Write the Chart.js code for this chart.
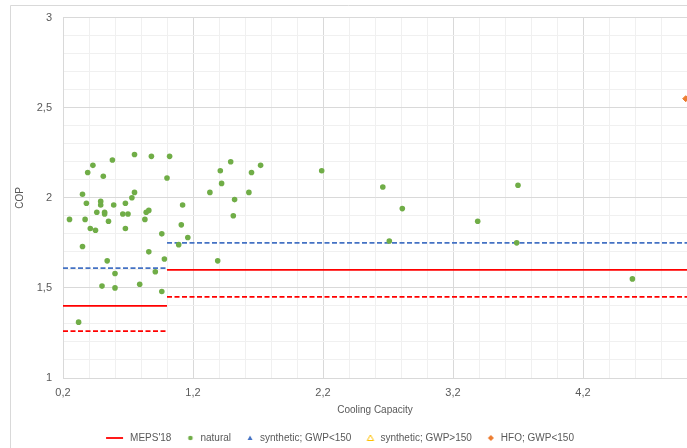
<!DOCTYPE html>
<html>
<head>
<meta charset="utf-8">
<script src="https://cdn.jsdelivr.net/npm/chart.js@4.4.1/dist/chart.umd.min.js"></script>
<style>
html, body { margin: 0; padding: 0; background: #fff; overflow: hidden; }
</style>
</head>
<body>
<canvas id="chart" width="687" height="448"></canvas>
<script>
// natural refrigerant units (cooling capacity vs COP)
const naturalCapacity = [0.25, 0.35, 0.38, 0.37, 0.41, 0.45, 0.46, 0.49, 0.49, 0.52,
    0.52, 0.55, 0.59, 0.68, 0.66, 0.70, 0.68, 0.73, 0.75, 0.83,
    0.84, 0.86, 0.86, 0.96, 1.12, 1.11, 1.16, 1.09, 0.98, 0.91,
    0.79, 0.96, 0.60, 0.50, 0.60, 0.54, 0.35, 0.32, 1.33, 1.42,
    1.52, 1.51, 1.39, 0.39, 0.43, 0.51, 0.58, 0.75, 0.88, 1.02,
    1.00, 1.41, 1.49, 1.63, 1.65, 1.72, 2.19, 2.66, 2.71, 2.81,
    3.39, 3.70, 3.69, 4.58];
const naturalCop = [1.88, 2.02, 1.97, 1.88, 1.83, 1.82, 1.92, 1.98, 1.96, 1.92,
    1.91, 1.87, 1.96, 1.97, 1.91, 1.91, 1.83, 2.00, 2.03, 1.88,
    1.92, 1.93, 1.70, 1.80, 1.96, 1.85, 1.78, 1.74, 1.66, 1.59,
    1.52, 1.48, 1.50, 1.51, 1.58, 1.65, 1.73, 1.31, 2.03, 2.08,
    1.99, 1.90, 1.65, 2.14, 2.18, 2.12, 2.21, 2.24, 2.23, 2.23,
    2.11, 2.15, 2.20, 2.03, 2.14, 2.18, 2.15, 2.06, 1.76, 1.94,
    1.87, 2.07, 1.75, 1.55];

const synthLowCapacity = [];
const synthLowCop = [];
const synthHighCapacity = [];
const synthHighCop = [];
const hfoCapacity = [4.99];
const hfoCop = [2.55];

// MEPS'18 step limits: break points on capacity axis, one COP per step
const mepsBreaks = [0.2, 1.0, 5.0];
const mepsCop = [1.40, 1.60];
const mepsLowCop = [1.26, 1.45];
const mepsHighCop = [1.61, 1.75];

const xMajor = [0.2, 1.2, 2.2, 3.2, 4.2];
const xTickLabels = ['0,2', '1,2', '2,2', '3,2', '4,2'];
const yMajor = [1, 1.5, 2, 2.5, 3];
const yTickLabels = ['1', '1,5', '2', '2,5', '3'];

const legendNames = ["MEPS'18", 'natural', 'synthetic; GWP<150', 'synthetic; GWP>150', 'HFO; GWP<150'];

const textColor = '#595959';

function toPoints(xs, ys) {
    return xs.map((x, i) => ({ x: x, y: ys[i] }));
}

function stepLine(breaks, values) {
    const pts = [];
    values.forEach((v, i) => {
        if (i > 0) pts.push({ x: breaks[i], y: null });
        pts.push({ x: breaks[i], y: v });
        pts.push({ x: breaks[i + 1], y: v });
    });
    return pts;
}

function majorIndex(list, v) {
    return list.findIndex(m => Math.abs(m - v) < 1e-6);
}

function evenTicks(min, max, step) {
    const out = [];
    const n = Math.round((max - min) / step);
    for (let i = 0; i <= n; i++) out.push({ value: Math.round((min + i * step) * 100) / 100 });
    return out;
}

// legend markers as little images; marker sits at the right end so text follows closely
const markW = 22;
function marker(draw) {
    const c = document.createElement('canvas');
    c.width = markW; c.height = 8;
    const g = c.getContext('2d');
    draw(g, 17, 4);
    return c;
}
const lineMark = marker((g, x, y) => {
    g.strokeStyle = '#ff0000'; g.lineWidth = 1.8;
    g.beginPath(); g.moveTo(3, y); g.lineTo(20, y); g.stroke();
});
const dotMark = marker((g, x, y) => {
    g.fillStyle = '#70ad47';
    g.beginPath(); g.arc(x, y, 2.3, 0, Math.PI * 2); g.fill();
});
const blueTri = marker((g, x, y) => {
    g.fillStyle = '#4472c4';
    g.beginPath(); g.moveTo(x, y - 2.5); g.lineTo(x + 2.5, y + 2); g.lineTo(x - 2.5, y + 2); g.closePath(); g.fill();
});
const hollowTri = marker((g, x, y) => {
    g.strokeStyle = '#ffc000'; g.lineWidth = 1;
    g.beginPath(); g.moveTo(x, y - 3); g.lineTo(x + 3.2, y + 2.5); g.lineTo(x - 3.2, y + 2.5); g.closePath(); g.stroke();
});
const diamond = marker((g, x, y) => {
    g.fillStyle = '#ed7d31';
    g.beginPath(); g.moveTo(x, y - 3); g.lineTo(x + 3, y); g.lineTo(x, y + 3); g.lineTo(x - 3, y); g.closePath(); g.fill();
});
const legendMarks = {
    "MEPS'18": lineMark,
    'natural': dotMark,
    'synthetic; GWP<150': blueTri,
    'synthetic; GWP>150': hollowTri,
    'HFO; GWP<150': diamond
};

const frame = {
    id: 'frame',
    afterLayout(chart) {
        // legend sits a little left of centre in the original
        chart.legend.left -= 5;
        chart.legend.right -= 5;
    },
    beforeDraw(chart) {
        const c = chart.ctx;
        c.save();
        c.strokeStyle = '#d9d9d9';
        c.lineWidth = 1;
        c.beginPath();
        c.moveTo(10.5, 448);
        c.lineTo(10.5, 5.5);
        c.lineTo(687, 5.5);
        c.stroke();
        c.restore();
    }
};

const ctx = document.getElementById('chart').getContext('2d');
const chart = new Chart(ctx, {
    type: 'scatter',
    data: {
        datasets: [{
            label: "MEPS'18",
            data: stepLine(mepsBreaks, mepsCop),
            showLine: true,
            borderColor: '#ff0000',
            backgroundColor: '#ff0000',
            borderWidth: 1.8,
            pointRadius: 0,
            spanGaps: false,
            order: 2
        }, {
            label: "MEPS'18 low",
            data: stepLine(mepsBreaks, mepsLowCop),
            showLine: true,
            borderColor: '#ff0000',
            borderWidth: 1.8,
            borderDash: [5, 2.5],
            pointRadius: 0,
            spanGaps: false,
            order: 2
        }, {
            label: "MEPS'18 high",
            data: stepLine(mepsBreaks, mepsHighCop),
            showLine: true,
            borderColor: '#4472c4',
            borderWidth: 1.8,
            borderDash: [5, 2.5],
            pointRadius: 0,
            spanGaps: false,
            order: 2
        }, {
            label: 'natural',
            data: toPoints(naturalCapacity, naturalCop),
            backgroundColor: '#70ad47',
            borderColor: '#70ad47',
            borderWidth: 0,
            pointRadius: 2.8,
            pointStyle: 'circle',
            order: 1
        }, {
            label: 'synthetic; GWP<150',
            data: toPoints(synthLowCapacity, synthLowCop),
            backgroundColor: '#4472c4',
            borderColor: '#4472c4',
            borderWidth: 1,
            pointRadius: 3,
            pointStyle: 'triangle',
            order: 1
        }, {
            label: 'synthetic; GWP>150',
            data: toPoints(synthHighCapacity, synthHighCop),
            backgroundColor: '#ffffff',
            borderColor: '#ffc000',
            borderWidth: 1,
            pointRadius: 3,
            pointStyle: 'triangle',
            order: 1
        }, {
            label: 'HFO; GWP<150',
            data: toPoints(hfoCapacity, hfoCop),
            backgroundColor: '#ed7d31',
            borderColor: '#ed7d31',
            borderWidth: 1,
            pointRadius: 3,
            pointStyle: 'rectRot',
            order: 1
        }]
    },
    options: {
        responsive: false,
        animation: false,
        devicePixelRatio: 1,
        layout: { autoPadding: false, padding: { left: 0, right: 0, top: 16, bottom: -5 } },
        plugins: {
            tooltip: { enabled: false },
            legend: {
                position: 'bottom',
                labels: {
                    color: textColor,
                    font: { family: 'Liberation Sans', size: 10 },
                    usePointStyle: true,
                    pointStyleWidth: markW,
                    boxHeight: 5,
                    padding: 2,
                    sort: (a, b) => legendNames.indexOf(a.text) - legendNames.indexOf(b.text),
                    generateLabels(chart) {
                        const items = Chart.defaults.plugins.legend.labels.generateLabels(chart);
                        return items.filter(it => legendNames.includes(it.text)).map(it => {
                            it.pointStyle = legendMarks[it.text];
                            return it;
                        });
                    }
                }
            }
        },
        scales: {
            x: {
                type: 'linear',
                min: 0.2,
                max: 5.0,
                afterBuildTicks(scale) { scale.ticks = evenTicks(0.2, 5.0, 0.2); },
                afterFit(scale) {
                    scale.height = 53;
                    scale.paddingRight = 0;
                },
                ticks: {
                    autoSkip: false,
                    maxRotation: 0,
                    padding: 8,
                    color: textColor,
                    font: { family: 'Liberation Sans', size: 11 },
                    callback(v) {
                        const i = majorIndex(xMajor, v);
                        return i >= 0 ? xTickLabels[i] : '';
                    }
                },
                grid: {
                    drawTicks: false,
                    color(c) { return c.tick && majorIndex(xMajor, c.tick.value) >= 0 ? '#d9d9d9' : '#f0f0f0'; }
                },
                border: { color: '#d9d9d9' },
                title: {
                    display: true,
                    text: 'Cooling Capacity',
                    color: textColor,
                    font: { family: 'Liberation Sans', size: 10 },
                    padding: { top: 0, bottom: 15 }
                }
            },
            y: {
                type: 'linear',
                min: 1,
                max: 3,
                afterBuildTicks(scale) { scale.ticks = evenTicks(1, 3, 0.1); },
                afterFit(scale) { scale.width = 63; },
                ticks: {
                    autoSkip: false,
                    padding: 11,
                    color: textColor,
                    font: { family: 'Liberation Sans', size: 11 },
                    callback(v) {
                        const i = majorIndex(yMajor, v);
                        return i >= 0 ? yTickLabels[i] : '';
                    }
                },
                grid: {
                    drawTicks: false,
                    color(c) { return c.tick && majorIndex(yMajor, c.tick.value) >= 0 ? '#d9d9d9' : '#f0f0f0'; }
                },
                border: { color: '#d9d9d9' },
                title: {
                    display: true,
                    text: 'COP',
                    color: textColor,
                    font: { family: 'Liberation Sans', size: 10 },
                    padding: { top: 14, bottom: 0 }
                }
            }
        }
    },
    plugins: [frame]
});
</script>
</body>
</html>
